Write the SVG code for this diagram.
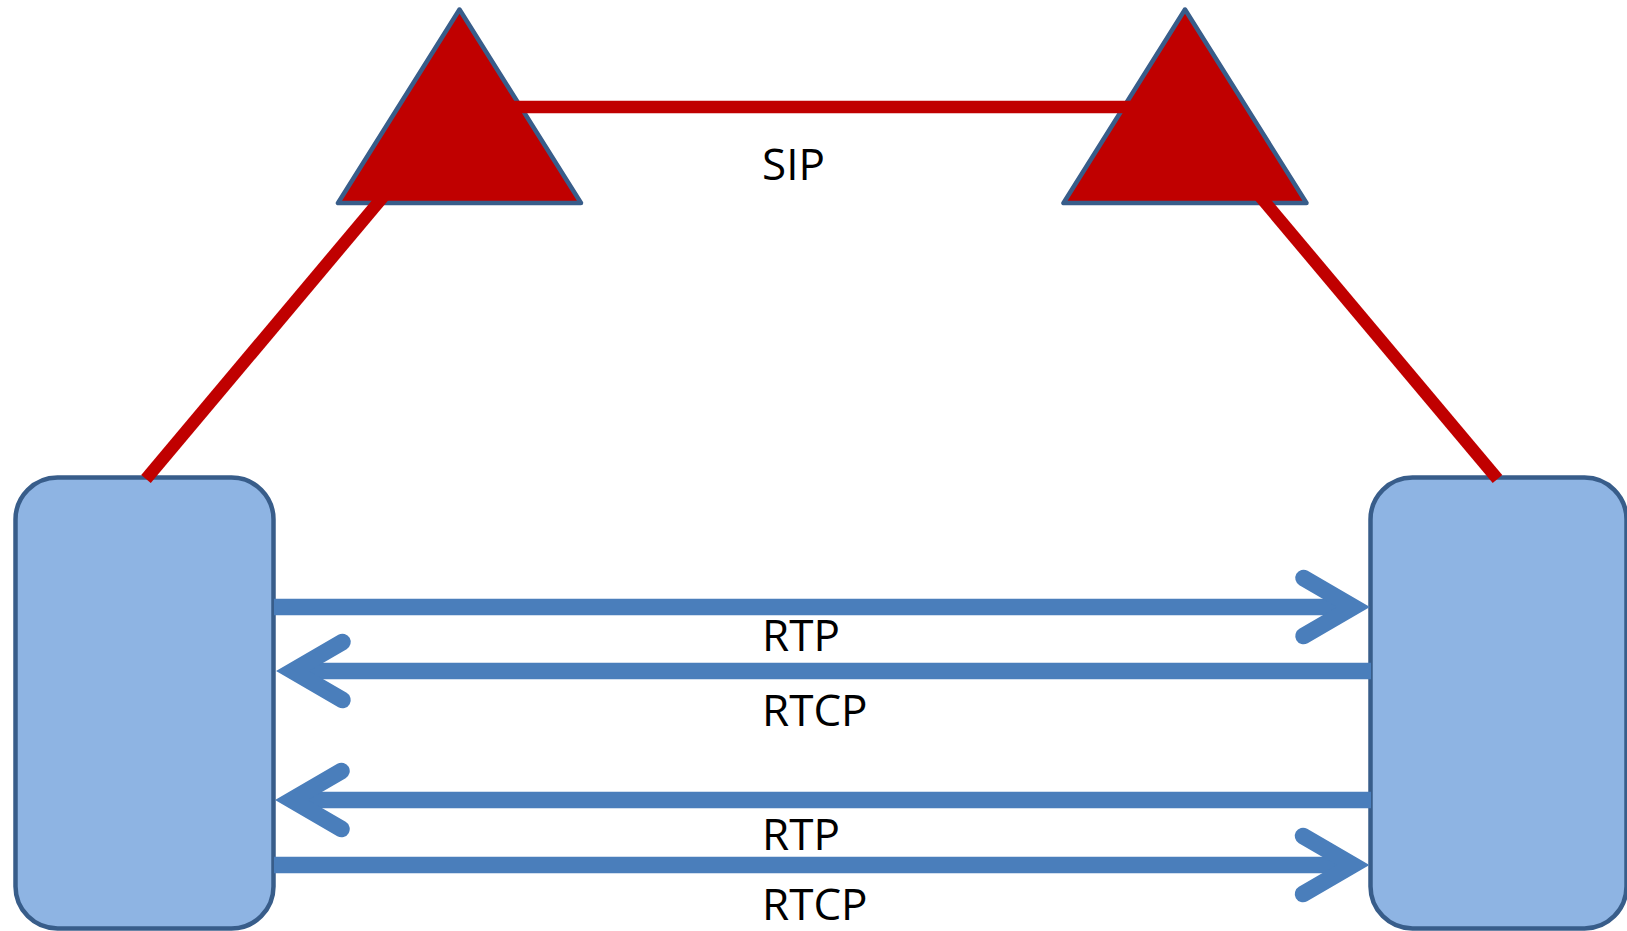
<svg xmlns="http://www.w3.org/2000/svg" width="1627" height="931" viewBox="0 0 1627 931">
  <style>
    .proxy { fill: #C00000; stroke: #385D8A; stroke-width: 4.5; stroke-linejoin: round; }
    .endpoint { fill: #8EB4E3; stroke: #385D8A; stroke-width: 4.5; }
    .sig { stroke: #C00000; stroke-width: 12.5; fill: none; }
    .media { stroke: #4A7EBB; stroke-width: 16.5; fill: none; }
    .label { font-family: "Open Sans", "Noto Sans", "Liberation Sans", sans-serif; font-size: 44px; fill: #000000; }
  </style>
  <defs>
    <!-- open chevron head, apex placed just past the line end -->
    <marker id="chevron" markerUnits="userSpaceOnUse" markerWidth="120" markerHeight="120" refX="0" refY="0" orient="auto" overflow="visible">
      <path d="M-50,-29 L0,0 L-50,29" fill="none" stroke="#4A7EBB" stroke-width="16.5" stroke-linecap="round" stroke-linejoin="miter"/>
    </marker>
  </defs>

  <rect width="1627" height="931" fill="#FFFFFF"/>

  <!-- endpoints -->
  <g id="endpoint-left">
    <rect class="endpoint" x="15.5" y="477.5" width="258" height="451" rx="42" ry="42"/>
  </g>
  <g id="endpoint-right">
    <rect class="endpoint" x="1370.5" y="477.5" width="256" height="451" rx="42" ry="42"/>
  </g>

  <!-- SIP proxies -->
  <g id="proxy-left">
    <polygon class="proxy" points="459.5,9.5 338,203 581,203"/>
  </g>
  <g id="proxy-right">
    <polygon class="proxy" points="1185,9.5 1063.5,203 1306.5,203"/>
  </g>

  <!-- connectors -->
  <g id="connectors">
    <!-- signalling path -->
    <line class="sig" x1="470" y1="107" x2="1175" y2="107"/>
    <line class="sig" x1="146" y1="479" x2="414" y2="160"/>
    <line class="sig" x1="1497.5" y1="479" x2="1229.5" y2="160"/>
    <!-- media streams -->
    <path class="media" d="M274,607 H1353.5" marker-end="url(#chevron)"/>
    <path class="media" d="M1371,671 H292.5" marker-end="url(#chevron)"/>
    <path class="media" d="M1371,800 H291.5" marker-end="url(#chevron)"/>
    <path class="media" d="M274,865 H1353" marker-end="url(#chevron)"/>
  </g>

  <!-- labels -->
  <g id="labels">
    <text class="label" x="762" y="180">SIP</text>
    <text class="label" x="762" y="651">RTP</text>
    <text class="label" x="762" y="726">RTCP</text>
    <text class="label" x="762" y="849.5">RTP</text>
    <text class="label" x="762" y="920">RTCP</text>
  </g>
</svg>
